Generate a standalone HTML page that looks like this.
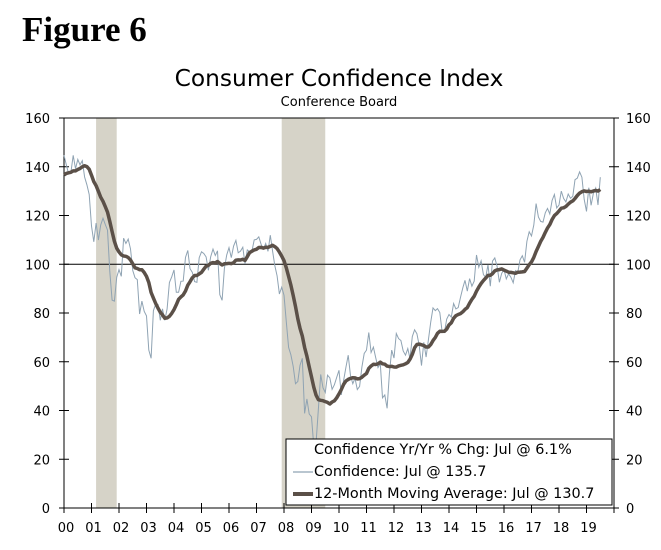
<!DOCTYPE html>
<html><head><meta charset="utf-8"><style>
body{margin:0;background:#fff;}
svg text{font-family:"DejaVu Sans","Liberation Sans",sans-serif;}
</style></head><body>
<svg id="chart" width="661" height="545" viewBox="0 0 661 545" xmlns="http://www.w3.org/2000/svg">
<text x="22" y="41" style="font-family:'Liberation Serif',serif;font-weight:bold;font-size:35px">Figure 6</text>
<text x="339" y="86" text-anchor="middle" font-size="23.3">Consumer Confidence Index</text>
<text x="339" y="106" text-anchor="middle" font-size="13">Conference Board</text>
<g id="rec"></g><g id="axes"></g><g id="series"></g>
<g>
<rect x="286" y="439" width="326" height="66" fill="#fff" stroke="#000" stroke-width="1"/>
<text x="314" y="450" font-size="14.4" dominant-baseline="middle">Confidence Yr/Yr % Chg: Jul @ 6.1%</text>
<line x1="293" y1="472" x2="313" y2="472" stroke="#8fa3b3" stroke-width="1.2"/>
<text x="314" y="472" font-size="14.4" dominant-baseline="middle">Confidence: Jul @ 135.7</text>
<line x1="293" y1="494" x2="313" y2="494" stroke="#5b5048" stroke-width="4"/>
<text x="314" y="494" font-size="14.4" dominant-baseline="middle">12-Month Moving Average: Jul @ 130.7</text>
</g>
</svg>
<script>
const yearLabels=["00","01","02","03","04","05","06","07","08","09","10","11","12","13","14","15","16","17","18","19"];
const yTicks=[0,20,40,60,80,100,120,140,160];
const recessions=[[2001+2/12,2001+11/12],[2007+11/12,2009+6/12]];
const conf1999=[128.9,133.1,134.0,135.5,137.7,139.0,136.2,136.0,134.2,130.5,137.0,141.7];
const confidence=[
144.7,140.8,137.1,137.7,144.7,139.2,143.0,140.8,142.5,135.8,132.6,128.6,
115.7,109.2,116.9,109.9,116.1,118.9,116.3,114.0,97.0,85.3,84.9,94.6,
97.8,95.0,110.7,108.5,110.3,106.3,97.4,94.5,93.7,79.6,84.9,80.7,
78.8,64.8,61.4,81.0,83.6,83.5,77.0,81.7,77.0,81.7,92.5,94.8,
97.7,88.5,88.5,93.0,93.1,102.8,105.7,98.2,96.7,92.9,92.6,102.7,
105.1,104.4,103.0,97.5,103.1,106.2,103.6,105.5,87.5,85.2,98.3,103.8,
106.8,102.7,107.5,109.8,104.7,105.4,107.0,100.2,105.9,105.1,105.3,110.0,
110.2,111.2,108.2,106.3,108.5,105.3,111.9,105.6,99.5,95.2,87.8,90.6,
87.3,76.4,65.9,62.8,58.1,51.0,51.9,58.5,61.4,38.8,44.7,38.6,
37.4,25.3,26.9,40.8,54.8,49.3,47.4,54.5,53.4,48.7,50.6,53.6,
56.5,46.4,52.3,57.7,62.7,54.3,51.0,53.2,48.6,49.9,57.8,63.4,
64.8,72.0,63.8,66.0,61.7,57.6,59.2,45.2,46.4,40.9,55.2,64.8,
61.5,71.6,69.5,68.7,64.4,62.7,65.4,61.3,70.3,73.1,71.5,66.7,
58.4,68.0,61.9,69.0,76.2,82.1,81.0,81.8,80.2,72.4,72.0,77.5,
79.4,78.3,83.9,81.7,82.2,86.4,90.3,93.4,89.0,94.1,91.0,93.1,
103.8,98.8,101.4,95.8,94.6,99.8,91.0,101.3,102.6,99.1,92.6,96.3,
97.8,94.0,96.1,94.7,92.4,97.4,96.7,101.8,103.5,100.8,109.4,113.3,
111.6,116.1,124.9,119.4,117.6,117.3,121.1,122.9,120.6,126.2,128.6,123.1,
124.3,130.0,127.0,125.6,128.8,127.1,127.9,134.7,135.3,137.9,135.7,126.6,
121.7,131.4,124.2,129.2,131.3,124.3,135.7];
const NS="http://www.w3.org/2000/svg";
const L=64,R=614,T=118,B=508;
const x=t=>L+(t-2000)*(R-L)/20;
const y=v=>B-v*(B-T)/160;
function mk(tag,attrs,parent){const e=document.createElementNS(NS,tag);for(const k in attrs)e.setAttribute(k,attrs[k]);parent.appendChild(e);return e;}
const rec=document.getElementById('rec'),axes=document.getElementById('axes'),ser=document.getElementById('series');
recessions.forEach(r=>{const e=mk('rect',{x:x(r[0]),y:T,width:x(r[1])-x(r[0]),height:B-T,fill:'#d6d3c8'},rec);

});
mk('line',{x1:L,y1:T,x2:L,y2:B,stroke:'#000'},axes);
mk('line',{x1:R,y1:T,x2:R,y2:B,stroke:'#000'},axes);
mk('line',{x1:L,y1:T,x2:R,y2:T,stroke:'#000'},axes);
mk('line',{x1:L,y1:B,x2:R,y2:B,stroke:'#000'},axes);
mk('line',{x1:L,y1:y(100),x2:R,y2:y(100),stroke:'#000'},axes);
yTicks.forEach(v=>{
mk('line',{x1:L-5,y1:y(v),x2:L+5,y2:y(v),stroke:'#000'},axes);
mk('line',{x1:R-5,y1:y(v),x2:R+5,y2:y(v),stroke:'#000'},axes);
const a=mk('text',{x:L-14,y:y(v)+5,'text-anchor':'end','font-size':13},axes);a.textContent=v;


const b=mk('text',{x:R+12,y:y(v)+5,'font-size':13},axes);b.textContent=v;

});
for(let i=0;i<=20;i++)mk('line',{x1:x(2000+i),y1:B-5,x2:x(2000+i),y2:B+5,stroke:'#000'},axes);
yearLabels.forEach((s,i)=>{const t=mk('text',{x:x(2000+i)+2,y:B+24,'text-anchor':'middle','font-size':13},axes);t.textContent=s;

});
const tm=i=>2000+i/12;
let p=confidence.map((v,i)=>(i?'L':'M')+x(tm(i)).toFixed(1)+','+y(v).toFixed(1)).join('');
const cl=mk('path',{d:p,fill:'none',stroke:'#8fa3b3','stroke-width':1},ser);


const all=conf1999.concat(confidence);
const ma=confidence.map((v,i)=>{let s=0;for(let k=i+1;k<=i+12;k++)s+=all[k];return s/12;});
p=ma.map((v,i)=>(i?'L':'M')+x(tm(i)).toFixed(1)+','+y(v).toFixed(1)).join('');
const ml=mk('path',{d:p,fill:'none',stroke:'#5b5048','stroke-width':3.5,'stroke-linejoin':'round'},ser);


</script>
</body></html>
